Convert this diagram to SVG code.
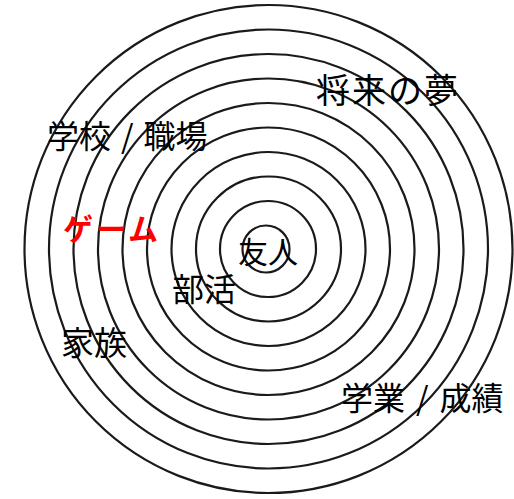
<svg xmlns="http://www.w3.org/2000/svg" width="514" height="499" viewBox="0 0 514 499">
<style>
.ring{fill:none;stroke:#1a1a1a;stroke-width:2.2}
.t{font-family:"Noto Sans CJK JP","Noto Sans",sans-serif;fill:#000}
.r{font-family:"Noto Sans CJK JP","Noto Sans",sans-serif;fill:#ff0000;font-weight:bold}
</style>
<rect width="514" height="499" fill="#fff"/>
<g id="rings">
<circle class="ring" cx="268.5" cy="249" r="244"/>
<circle class="ring" cx="268.5" cy="249" r="219.5"/>
<circle class="ring" cx="268.5" cy="249" r="195"/>
<circle class="ring" cx="268.5" cy="249" r="170.5"/>
<circle class="ring" cx="268.5" cy="249" r="146"/>
<circle class="ring" cx="268.5" cy="249" r="121.5"/>
<circle class="ring" cx="268.5" cy="249" r="97"/>
<circle class="ring" cx="268.5" cy="249" r="72.5"/>
<circle class="ring" cx="268" cy="249" r="48"/>
<circle class="ring" cx="266" cy="249" r="23.5"/>
</g>
<g id="labels">
<text id="dream" class="t" x="316" y="103" font-size="34" textLength="142">将来の夢</text>
<text id="school" class="t" x="47" y="148" font-size="32">学校<tspan dx="10">/</tspan><tspan dx="10">職場</tspan></text>
<text id="game" class="r" x="63" y="240" font-size="30" textLength="95">ゲーム</text>
<text id="friend" class="t" x="238" y="263" font-size="30">友人</text>
<text id="club" class="t" x="172" y="301" font-size="32">部活</text>
<text id="family" class="t" x="61" y="355" font-size="33">家族</text>
<text id="grades" class="t" x="341" y="410" font-size="32">学業<tspan dx="11">/</tspan><tspan dx="11">成績</tspan></text>
</g>
</svg>
